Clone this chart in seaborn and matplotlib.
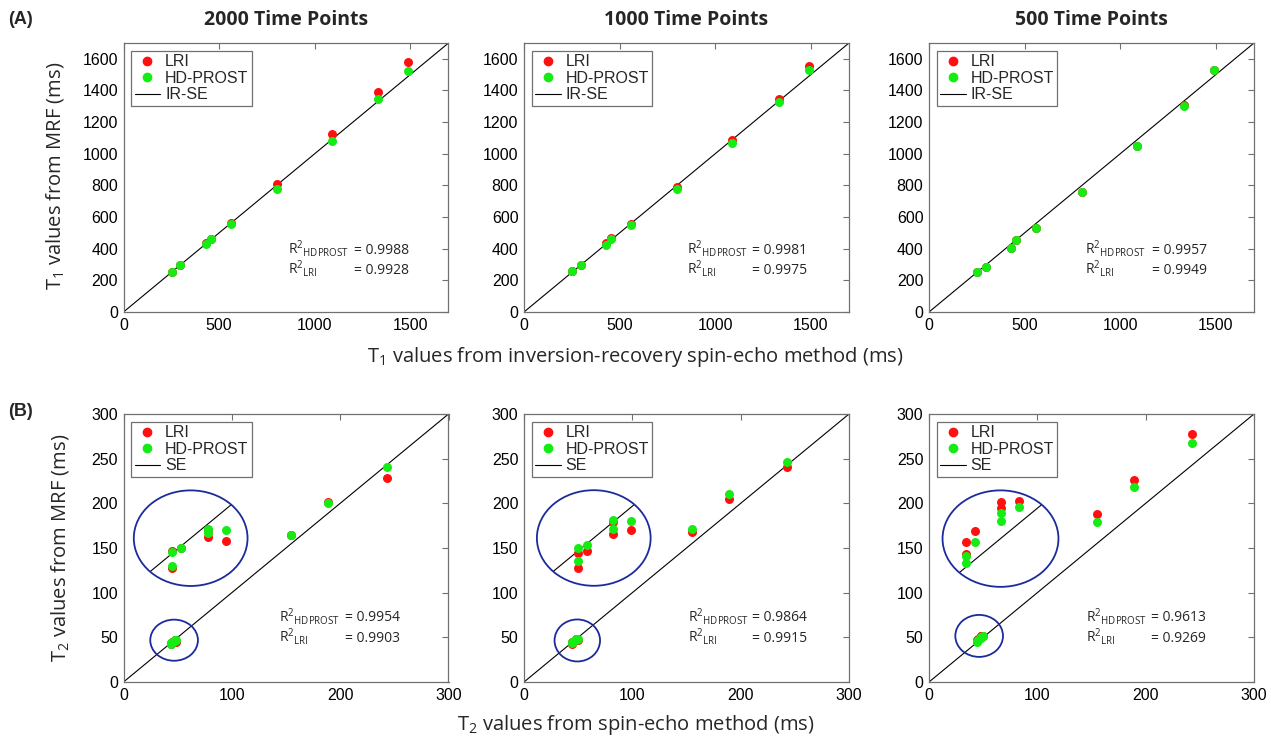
import matplotlib
matplotlib.use('Agg')
import matplotlib.pyplot as plt
from matplotlib.patches import Ellipse
from matplotlib.lines import Line2D
import numpy as np
import pandas as pd
import seaborn as sns

# ---- T1 data (ms) ----
t1_se = [253, 298, 430, 456, 560, 802, 1089, 1333, 1490]
t1_lri = {
    '2000': [254, 296, 437, 463, 564, 807, 1122, 1393, 1581],
    '1000': [260, 296, 433, 469, 559, 790, 1085, 1343, 1554],
    '500': [253, 285, 407, 458, 532, 756, 1051, 1309, 1531],
}
t1_hd = {
    '2000': [254, 296, 427, 463, 556, 780, 1078, 1346, 1526],
    '1000': [260, 296, 422, 464, 549, 777, 1068, 1324, 1528],
    '500': [253, 285, 407, 458, 532, 760, 1051, 1303, 1528],
}
t1_r2 = {'2000': ('0.9988', '0.9928'), '1000': ('0.9981', '0.9975'), '500': ('0.9957', '0.9949')}

# ---- T2 data (ms), long-T2 vials ----
t2_se = [155, 189, 243]
t2_lri = {'2000': [164.2, 201.1, 228.4], '1000': [167.9, 204.9, 240.3], '500': [188.0, 225.7, 277.2]}
t2_hd = {'2000': [164.9, 200.4, 240.7], '1000': [171.3, 210.8, 246.3], '500': [178.7, 217.9, 267.5]}
t2_r2 = {'2000': ('0.9954', '0.9903'), '1000': ('0.9864', '0.9915'), '500': ('0.9613', '0.9269')}

# short-T2 vials as read in the magnified inset
inset_se = {
    '2000': [44.9, 44.9, 53.2, 77.9, 77.9, 94.6],
    '1000': [49.8, 49.8, 58.0, 82.5, 82.5, 99.0],
    '500': [33.7, 33.7, 42.0, 66.6, 66.6, 83.3],
}
inset_lri = {
    '2000': [147.0, 127.6, 149.5, 170.5, 161.9, 158.2],
    '1000': [144.5, 127.6, 147.0, 178.7, 166.0, 170.5],
    '500': [156.3, 143.7, 168.7, 201.1, 195.2, 202.2],
}
inset_hd = {
    '2000': [145.1, 130.2, 150.0, 171.3, 166.8, 169.7],
    '1000': [150.0, 135.0, 153.0, 181.0, 171.3, 180.3],
    '500': [140.7, 133.2, 156.3, 189.2, 179.8, 195.5],
}
# inset geometry: big ellipse centre, small circle centre/size, zoom anchor
big_center = {'2000': (62, 161), '1000': (64.4, 161.2), '500': (66, 160.5)}
big_size = {'2000': (105, 107), '1000': (105, 107), '500': (107, 108)}
small_center = {'2000': (46.7, 46.8), '1000': (49.2, 46.5), '500': (46.3, 51.6)}
small_size = {'2000': (44, 46), '1000': (42, 47), '500': (44, 47)}
anchor = {'2000': 45.6, '1000': 46.1, '500': 47.8}
zoom_k = 10.0

time_points = ['2000', '1000', '500']

RED = '#ff1010'
GREEN = '#14ec14'
SPINE = '#707070'
BLUE = '#1c2b9c'

sns.set_style('white')
plt.rcParams['font.family'] = ['Liberation Sans', 'DejaVu Sans']
plt.rcParams['mathtext.fontset'] = 'custom'
plt.rcParams['mathtext.rm'] = 'Open Sans'
plt.rcParams['mathtext.it'] = 'Open Sans:italic'
plt.rcParams['mathtext.bf'] = 'Open Sans:bold'

W, H = 1271, 740
fig = plt.figure(figsize=(W / 100, H / 100), dpi=100)

col_left = [123.5, 524, 929]
col_w = 325


def make_ax(x0, y_top, y_bot):
    return fig.add_axes([x0 / W, 1 - y_bot / H, col_w / W, (y_bot - y_top) / H])


def style_ax(ax, lim, ticks_x, ticks_y):
    ax.set_xlim(0, lim)
    ax.set_ylim(0, lim)
    ax.set_xticks(ticks_x)
    ax.set_yticks(ticks_y)
    for s in ax.spines.values():
        s.set_color(SPINE)
        s.set_linewidth(0.9)
        s.set_visible(True)
    ax.tick_params(direction='in', top=True, right=True, length=4, width=0.8,
                   color=SPINE, labelsize=11.5, labelcolor='black', pad=4)
    ax.set_xlabel('')
    ax.set_ylabel('')


def add_legend(ax, ref_label):
    handles = [
        Line2D([], [], marker='o', ls='none', color=RED, markersize=6),
        Line2D([], [], marker='o', ls='none', color=GREEN, markersize=6),
        Line2D([], [], color='black', lw=0.8),
    ]
    leg = ax.legend(handles, ['LRI', 'HD-PROST', ref_label], loc='upper left',
                    fontsize=11.5, frameon=True, fancybox=False, framealpha=1,
                    edgecolor=SPINE, borderaxespad=0.5, borderpad=0.2,
                    labelspacing=0.1, handlelength=1.6, handletextpad=0.3)
    leg.get_frame().set_linewidth(0.9)


def add_r2(ax, vals, x_r, x_eq, y1, y2):
    kw = dict(transform=ax.transAxes, fontsize=10, family='Open Sans', va='baseline')
    ax.text(x_r, y1, r'R$^{2}$$_{\mathrm{HDPROST}}$', **kw)
    ax.text(x_r, y2, r'R$^{2}$$_{\mathrm{LRI}}$', **kw)
    ax.text(x_eq, y1, '= ' + vals[0], **kw)
    ax.text(x_eq, y2, '= ' + vals[1], **kw)


r2_pos_top = [(0.505, 0.71), (0.503, 0.70), (0.48, 0.685)]
r2_pos_bot = [(0.479, 0.682), (0.504, 0.70), (0.483, 0.683)]

# ---- top row: T1 ----
for i, tp in enumerate(time_points):
    ax = make_ax(col_left[i], 43, 312)
    df = pd.DataFrame({'se': t1_se, 'lri': t1_lri[tp], 'hd': t1_hd[tp]})
    ax.plot([0, 1700], [0, 1700], color='black', lw=0.8, zorder=1)
    sns.scatterplot(data=df, x='se', y='lri', color=RED, s=42, linewidth=0, ax=ax, zorder=2)
    sns.scatterplot(data=df, x='se', y='hd', color=GREEN, s=42, linewidth=0, ax=ax, zorder=3)
    style_ax(ax, 1700, [0, 500, 1000, 1500], list(range(0, 1601, 200)))
    add_legend(ax, 'IR-SE')
    xr, xe = r2_pos_top[i]
    add_r2(ax, t1_r2[tp], xr, xe, 0.216, 0.143)
    fig.text((col_left[i] + col_w / 2) / W, 1 - 20 / H, f'{tp} Time Points',
             ha='center', va='center', fontsize=14, fontweight='bold', family='Open Sans')

# ---- bottom row: T2 ----
for i, tp in enumerate(time_points):
    ax = make_ax(col_left[i], 414, 682)
    cx, cy = big_center[tp]
    a = anchor[tp]
    ins = pd.DataFrame({'se': inset_se[tp], 'lri': inset_lri[tp], 'hd': inset_hd[tp]})
    # magnified values mapped back into the true short-T2 cluster
    clu = pd.DataFrame({
        'se': a + (ins['se'] - cx) / zoom_k,
        'lri': a + (ins['lri'] - cy) / zoom_k,
        'hd': a + (ins['hd'] - cy) / zoom_k,
    })
    main = pd.DataFrame({'se': t2_se, 'lri': t2_lri[tp], 'hd': t2_hd[tp]})
    allpts = pd.concat([main, clu, ins], ignore_index=True)

    ax.plot([0, 300], [0, 300], color='black', lw=0.8, zorder=1)
    # identity chord inside the magnified ellipse
    r = big_size[tp][0] / 2 / np.sqrt(2)
    ax.plot([cx - r, cx + r], [cy - r, cy + r], color='black', lw=0.8, zorder=1)
    sns.scatterplot(data=allpts, x='se', y='lri', color=RED, s=42, linewidth=0, ax=ax, zorder=2)
    sns.scatterplot(data=allpts, x='se', y='hd', color=GREEN, s=42, linewidth=0, ax=ax, zorder=3)
    ax.add_patch(Ellipse(big_center[tp], *big_size[tp], fill=False, edgecolor=BLUE, lw=1.3, zorder=4))
    ax.add_patch(Ellipse(small_center[tp], *small_size[tp], fill=False, edgecolor=BLUE, lw=1.3, zorder=4))
    style_ax(ax, 300, [0, 100, 200, 300], list(range(0, 301, 50)))
    add_legend(ax, 'SE')
    xr, xe = r2_pos_bot[i]
    add_r2(ax, t2_r2[tp], xr, xe, 0.226, 0.15)

# ---- shared labels ----
lab = dict(fontsize=14.5, family='Open Sans', ha='center', va='center')
fig.text(0.5, 1 - 357 / H, r'T$_1$ values from inversion-recovery spin-echo method (ms)', **lab)
fig.text(0.5, 1 - 725 / H, r'T$_2$ values from spin-echo method (ms)', **lab)
fig.text(55 / W, 1 - 176 / H, r'T$_1$ values from MRF (ms)', rotation=90, **lab)
fig.text(60 / W, 1 - 548 / H, r'T$_2$ values from MRF (ms)', rotation=90, **lab)
fig.text(8 / W, 1 - 19 / H, '(A)', fontsize=13, fontweight='bold', va='center')
fig.text(8 / W, 1 - 412 / H, '(B)', fontsize=13, fontweight='bold', va='center')

fig.savefig('out.png', dpi=100)
